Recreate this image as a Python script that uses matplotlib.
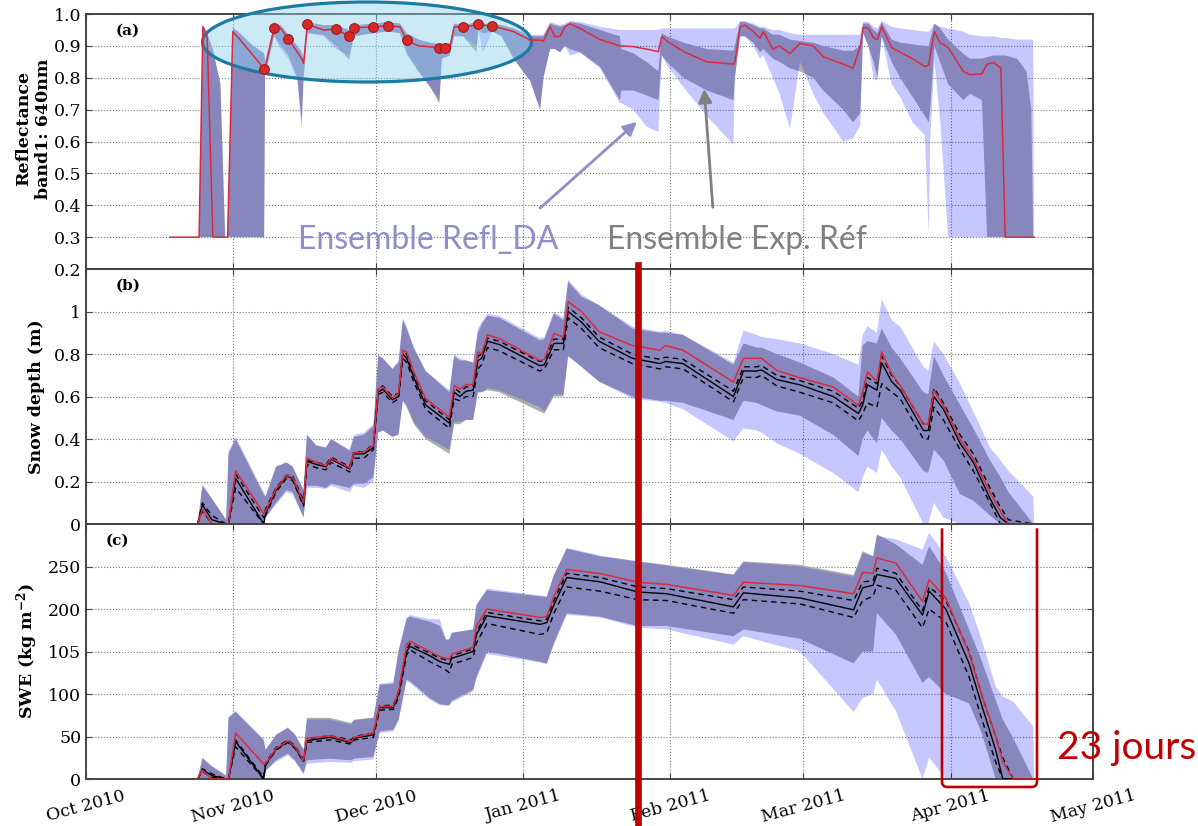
import datetime as dt
import numpy as np
import matplotlib
matplotlib.use("Agg")
import matplotlib.pyplot as plt
import matplotlib.dates as mdates
import matplotlib.transforms as mtransforms
from matplotlib.patches import Ellipse, FancyArrowPatch, PathPatch
from matplotlib.path import Path
from matplotlib.lines import Line2D

plt.rcParams['font.family'] = 'DejaVu Serif'
plt.rcParams['mathtext.fontset'] = 'dejavuserif'

# jours depuis le 1er octobre 2010
t0 = mdates.date2num(dt.datetime(2010, 10, 1))

# ---------------- (a) réflectance bande 1 ----------------
jours_a = [17.7, 23.8, 24.6, 25.5, 26.7, 28.3, 29.3, 29.8, 30.9, 32.4, 35.2, 37.5, 37.7, 39.6, 41.0,
           42.6, 44.5, 45.4, 45.8, 46.6, 50.0, 52.6, 55.4, 56.4, 60.5, 63.5, 66.1, 67.5, 70.0, 72.5,
           74.4, 74.9, 76.6, 77.5, 79.4, 82.2, 82.6, 83.6, 85.5, 87.5, 90.0, 93.5, 95.6, 96.3, 97.7,
           98.7, 99.8, 100.8, 101.9, 104.0, 108.2, 112.4, 112.7, 115.2, 118.0, 120.5, 121.2, 122.3, 125.8, 130.7,
           136.3, 136.6, 137.7, 138.7, 140.5, 141.9, 142.6, 144.6, 146.0, 148.2, 150.3, 153.1, 155.2, 159.4, 161.5,
           163.0, 163.6, 164.7, 165.8, 166.6, 167.5, 169.6, 171.4, 174.0, 176.6, 177.4, 177.7, 178.6, 179.8, 181.5,
           184.7, 186.1, 188.6, 189.7, 191.1, 192.6, 193.5, 196.0, 198.0, 199.0, 199.4, 199.6]
refl_da = [.30, .30, .96, .93, .30, .30, .30, .30, .945, .92, .87, .828, .83, .957, .955,
           .922, .88, .86, .845, .968, .95, .952, .931, .957, .96, .963, .96, .917, .90, .897,
           .894, .894, .895, .96, .96, .965, .969, .965, .963, .955, .945, .918, .918, .915, .96,
           .929, .93, .96, .969, .955, .92, .90, .90, .898, .89, .882, .93, .915, .882, .85,
           .843, .85, .96, .965, .945, .924, .945, .89, .90, .876, .908, .90, .866, .843, .83,
           .90, .958, .955, .925, .92, .96, .895, .88, .86, .835, .84, .87, .945, .91, .895,
           .82, .81, .812, .843, .848, .83, .30, .30, .30, .30, .30, .30]
refl_ref_min = [.30, .30, .30, .30, .30, .30, .30, .30, .30, .30, .30, .30, .81, .93, .90,
                .87, .80, .66, .80, .94, .935, .90, .856, .93, .94, .945, .94, .88, .82, .77,
                .72, .86, .87, .93, .93, .88, .95, .94, .945, .93, .86, .79, .70, .80, .89,
                .89, .88, .90, .89, .88, .835, .73, .76, .76, .745, .73, .87, .85, .80, .76,
                .73, .80, .93, .93, .91, .88, .89, .86, .85, .83, .82, .80, .76, .70, .66,
                .69, .94, .90, .85, .80, .93, .85, .80, .74, .68, .66, .70, .90, .85, .78,
                .73, .75, .73, .30, .30, .30, .30, .30, .30, .30, .30, .30]
refl_ref_max = [.30, .30, .965, .94, .89, .78, .30, .30, .957, .94, .90, .877, .85, .965, .965,
                .935, .90, .88, .86, .975, .965, .965, .95, .965, .97, .975, .97, .94, .92, .91,
                .905, .905, .91, .97, .965, .975, .975, .97, .97, .965, .955, .93, .93, .93, .97,
                .965, .96, .965, .975, .97, .95, .93, .89, .877, .85, .82, .94, .93, .91, .89,
                .885, .90, .975, .975, .965, .955, .955, .935, .935, .92, .915, .91, .90, .885, .885,
                .90, .97, .97, .95, .94, .975, .92, .91, .905, .90, .90, .92, .97, .955, .92,
                .875, .86, .86, .865, .87, .87, .87, .86, .82, .70, .30, .30]
refl_da_min = [.30, .30, .30, .30, .30, .30, .30, .30, .30, .30, .30, .30, .81, .93, .89,
               .86, .79, .636, .79, .94, .93, .89, .87, .93, .94, .945, .94, .87, .82, .77,
               .73, .86, .87, .93, .93, .90, .95, .88, .945, .93, .86, .79, .70, .80, .89,
               .89, .88, .90, .87, .88, .83, .72, .72, .70, .647, .63, .87, .84, .77, .68,
               .59, .80, .93, .93, .90, .86, .87, .80, .75, .64, .85, .75, .69, .60, .61,
               .65, .94, .90, .80, .79, .93, .78, .74, .66, .62, .31, .60, .85, .67, .30,
               .30, .30, .30, .30, .30, .30, .30, .30, .30, .30, .30, .30]
refl_da_max = [.30, .30, .965, .94, .89, .78, .30, .30, .957, .94, .90, .877, .85, .965, .965,
               .935, .90, .88, .86, .975, .965, .965, .95, .965, .97, .975, .97, .94, .92, .91,
               .905, .905, .91, .97, .965, .975, .975, .97, .97, .965, .955, .935, .935, .935, .975,
               .97, .965, .97, .978, .975, .96, .95, .95, .95, .95, .95, .955, .955, .955, .955,
               .955, .955, .978, .978, .97, .96, .96, .95, .95, .94, .935, .935, .935, .935, .935,
               .935, .975, .975, .96, .955, .978, .96, .955, .95, .945, .945, .95, .97, .96, .955,
               .945, .935, .93, .93, .93, .925, .925, .92, .92, .92, .92, .30]
obs_jours = [37.5, 39.6, 42.6, 46.6, 52.6, 55.4, 56.4, 60.5, 63.5, 67.5, 74.4, 75.6, 79.4, 82.6, 85.5]
obs_refl = [.828, .957, .922, .968, .952, .931, .957, .96, .963, .917, .894, .894, .96, .969, .963]

# ---------------- (b) hauteur de neige ----------------
jours_b = [23.5, 24.5, 26.5, 29.5, 30.0, 31.5, 37.4, 37.8, 40.0, 42.2, 43.5, 45.8, 46.5, 48.5, 50.5,
           51.6, 55.5, 56.4, 58.5, 60.5, 61.5, 62.5, 64.5, 65.8, 66.7, 67.5, 69.0, 71.5, 76.5, 77.5,
           78.7, 80.0, 81.5, 82.5, 83.3, 84.5, 87.0, 95.5, 96.5, 98.5, 100.5, 101.5, 104.3, 108.0, 115.0,
           120.8, 122.0, 125.7, 136.3, 138.4, 141.2, 142.2, 145.4, 150.3, 157.3, 162.6, 163.5, 164.5, 166.5, 167.5,
           169.6, 171.4, 176.3, 177.3, 178.5, 180.5, 184.0, 186.8, 190.3, 192.5, 194.2, 199.4, 199.6]
hn_da = [0, .07, 0, 0, 0, .25, .05, .06, .165, .228, .22, .10, .31, .29, .275,
         .31, .265, .335, .34, .37, .635, .645, .593, .613, .818, .81, .716, .59, .503, .652,
         .634, .656, .656, .81, .80, .89, .873, .77, .775, .896, .88, 1.047, 1.0, .905, .84,
         .818, .84, .818, .668, .78, .78, .78, .723, .688, .645, .558, .62, .716, .671, .81,
         .707, .652, .47, .47, .629, .558, .40, .307, .15, .06, 0, 0, 0]
hn_ref = [0, .09, .02, 0, 0, .215, 0, .05, .16, .225, .215, .09, .295, .28, .27,
          .305, .26, .33, .33, .36, .62, .635, .585, .60, .80, .78, .69, .56, .475, .62,
          .60, .625, .63, .77, .78, .86, .845, .745, .75, .85, .85, 1.0, .95, .86, .78,
          .755, .765, .755, .60, .72, .72, .725, .68, .655, .60, .52, .56, .655, .63, .76,
          .67, .63, .44, .44, .60, .54, .38, .29, .12, .03, 0, 0, 0]
hn_ref_q3 = [0, .10, .04, 0, 0, .235, .03, .07, .17, .23, .225, .11, .30, .29, .28,
             .315, .27, .34, .34, .375, .64, .65, .60, .615, .81, .80, .71, .58, .49, .64,
             .62, .645, .65, .79, .80, .875, .86, .765, .77, .87, .87, 1.02, .97, .88, .80,
             .775, .785, .775, .625, .74, .74, .745, .70, .675, .625, .545, .58, .69, .66, .79,
             .70, .65, .47, .47, .64, .57, .42, .33, .17, .08, .02, 0, 0]
hn_ref_q1 = [0, .06, 0, 0, 0, .17, 0, .04, .15, .215, .205, .085, .28, .265, .255,
             .29, .245, .31, .31, .35, .61, .62, .57, .59, .78, .76, .67, .54, .45, .59,
             .58, .60, .60, .73, .75, .83, .815, .72, .73, .82, .82, .97, .92, .83, .755,
             .73, .74, .73, .575, .69, .69, .70, .65, .62, .57, .485, .52, .57, .55, .66,
             .62, .59, .40, .40, .55, .49, .35, .25, .10, 0, 0, 0, 0]
hn_ref_min = [0, 0, 0, 0, 0, 0, 0, .03, .10, .16, .15, .03, .18, .18, .17,
              .19, .17, .19, .19, .22, .43, .44, .41, .42, .58, .55, .47, .40, .33, .47,
              .47, .49, .49, .62, .62, .63, .62, .53, .52, .60, .60, .79, .74, .67, .60,
              .58, .58, .57, .49, .58, .57, .56, .53, .51, .42, .32, .40, .44, .38, .50,
              .44, .40, .25, .24, .35, .30, .14, .11, .04, 0, 0, 0, 0]
hn_ref_max = [0, .18, .12, .02, .33, .40, .14, .13, .27, .29, .27, .16, .42, .37, .36,
              .40, .345, .41, .42, .46, .79, .78, .73, .76, .96, .92, .83, .72, .62, .79,
              .77, .77, .76, .90, .94, .98, .97, .865, .87, .99, .96, 1.14, 1.07, 1.03, .92,
              .90, .90, .89, .75, .85, .83, .83, .80, .76, .69, .60, .84, .86, .85, .92,
              .83, .78, .62, .61, .79, .70, .56, .45, .30, .22, .15, 0, 0]
hn_da_min = [0, 0, 0, 0, 0, 0, 0, .03, .09, .15, .14, .03, .17, .17, .165,
             .18, .15, .18, .17, .20, .43, .44, .41, .42, .58, .56, .48, .41, .35, .48,
             .48, .49, .49, .62, .62, .64, .63, .55, .53, .61, .61, .79, .74, .67, .59,
             .575, .57, .54, .39, .45, .44, .43, .38, .33, .24, .15, .22, .27, .24, .35,
             .27, .22, 0, 0, .10, .03, 0, 0, 0, 0, 0, 0, 0]
hn_da_max = [0, .19, .12, .02, .34, .41, .15, .13, .27, .29, .27, .16, .42, .37, .36,
             .40, .35, .42, .43, .47, .80, .78, .73, .77, .97, .93, .83, .72, .63, .80,
             .78, .77, .76, .92, .95, .99, .98, .875, .88, 1.0, .97, 1.15, 1.08, 1.03, .93,
             .905, .91, .89, .76, .91, .89, .88, .87, .85, .80, .75, .89, .93, .90, 1.06,
             .96, .93, .74, .72, .86, .80, .66, .53, .36, .30, .25, .13, 0]

# ---------------- (c) équivalent en eau ----------------
jours_c = [23.5, 24.5, 26.5, 29.5, 30.0, 31.5, 37.4, 37.8, 40.0, 42.5, 44.0, 45.8, 46.5, 51.3, 55.8,
           56.5, 60.5, 61.8, 64.7, 65.8, 67.5, 68.2, 72.4, 74.5, 75.8, 76.5, 77.0, 81.5, 82.2, 84.4,
           95.6, 97.0, 98.5, 101.2, 108.2, 116.2, 122.2, 136.3, 138.4, 150.3, 161.6, 163.5, 165.7, 166.5, 170.5,
           176.1, 177.5, 181.0, 185.9, 188.5, 191.5, 193.0, 195.2, 199.4, 199.6]
swe_da = [0, 10.6, 0, 0, 0, 54, 17.7, 18, 36, 45, 38, 22, 48, 51, 44,
          49, 54, 85, 86, 103, 158, 162, 150, 144, 142, 141, 147, 155, 180, 200,
          190, 191, 215, 246.5, 241.7, 231.5, 229, 216, 231.5, 227.6, 218, 243, 242, 260, 254,
          209, 234.7, 213, 148, 100, 50, 20, 0, 0, 0]
swe_ref = [0, 11, 4, 0, 0, 44, 0, 17, 35, 44, 37, 21, 45, 49, 43,
           48, 52, 84, 84, 100, 150, 156, 145, 138, 136, 135, 142, 150, 170, 192,
           182, 184, 205, 237, 232, 220, 218, 202.5, 219, 213, 199, 225, 228, 240.6, 236,
           193, 221, 200, 136, 88, 34, 0, 0, 0, 0]
swe_ref_q3 = [0, 12, 6, 0, 0, 46, 2, 19, 37, 46, 39, 23, 47, 51, 46,
              50, 54, 86, 87, 103, 153, 159, 148, 142, 140, 139, 145, 153, 173, 196,
              186, 188, 210, 242, 237, 226, 224, 211, 226, 221, 210, 232, 233, 248, 242,
              198, 226, 210, 150, 100, 50, 25, 0, 0, 0]
swe_ref_q1 = [0, 9, 2, 0, 0, 38, 0, 16, 34, 43, 36, 20, 43, 46, 41,
              46, 49, 81, 82, 96, 146, 152, 138, 132, 128, 125, 135, 143, 160, 183,
              170, 172, 195, 226, 221, 211, 210, 195, 211, 206, 190, 210, 215, 228, 222,
              178, 200, 185, 120, 72, 20, 0, 0, 0, 0]
swe_ref_min = [0, 0, 0, 0, 0, 0, 0, 10, 22, 30, 22, 7, 22, 24, 22,
               24, 26, 56, 58, 70, 117, 115, 95, 88, 87, 87, 92, 105, 120, 150,
               138, 136, 160, 195, 191, 180, 180, 168, 176, 165, 136, 150, 150, 195, 170,
               113, 120, 100, 89, 55, 0, 0, 0, 0, 0]
swe_ref_max = [0, 24.4, 15, 4, 72, 79, 46, 34, 52, 60, 52, 34, 72, 72, 66,
               70, 72, 111, 112, 150, 189, 191, 185, 180, 164, 164, 172, 176, 205, 222,
               215, 214, 240, 271, 262, 256, 252, 240.6, 256, 252, 240, 268, 262, 288, 276,
               252, 274, 243, 176, 140, 93, 70, 48, 0, 0]
swe_da_min = [0, 0, 0, 0, 0, 0, 0, 9, 20, 28, 20, 5, 18, 20, 19,
              21, 23, 54, 56, 68, 115, 113, 93, 87, 86, 86, 90, 103, 118, 147,
              137, 135, 158, 193, 190, 178, 176, 158, 168, 150, 79, 95, 100, 117, 80,
              0, 25, 0, 0, 0, 0, 0, 0, 0, 0]
swe_da_max = [0, 25, 15, 4, 73, 80, 47, 35, 52, 61, 53, 35, 70, 70, 64,
              69, 72, 112, 114, 152, 189, 193, 188, 188, 164, 165, 172, 176, 205, 224,
              216, 215, 240, 272, 263, 256, 251, 240, 255, 250, 238, 266, 262, 286, 282,
              270, 290, 262, 207, 165, 109, 97, 91, 62, 0]

# annotations (jours depuis le 1er octobre)
jour_coupure = 116.2
crochet_debut, crochet_fin = 180.2, 200.2

ROUGE = '#dc2a3c'
GRIS = '#adadad'


def enveloppes(ax, jours, rmin, rmax, dmin, dmax):
    x = t0 + np.array(jours)
    ax.fill_between(x, rmin, rmax, facecolor=GRIS, lw=0, zorder=1)
    ax.fill_between(x, dmin, dmax, facecolor='blue', alpha=0.22, lw=0, zorder=2)


def courbes(ax, jours, ref, q1, q3, da):
    x = t0 + np.array(jours)
    ax.plot(x, q1, color='k', lw=1.0, ls=(0, (4, 3)), zorder=3)
    ax.plot(x, q3, color='k', lw=1.0, ls=(0, (4, 3)), zorder=3)
    ax.plot(x, ref, color='k', lw=1.0, zorder=3)
    ax.plot(x, da, color=ROUGE, lw=1.1, zorder=4)


def fx(px):
    return px / 1198.0


def fy(py):
    return 1 - py / 826.0


fig = plt.figure(figsize=(11.98, 8.26), dpi=100)
L, W, H = 0.0718, 0.8406, 0.3087
ax_a = fig.add_axes([L, 0.6743, W, H])
ax_b = fig.add_axes([L, 0.3656, W, H], sharex=ax_a)
ax_c = fig.add_axes([L, 0.0569, W, H], sharex=ax_a)

# (a)
enveloppes(ax_a, jours_a, refl_ref_min, refl_ref_max, refl_da_min, refl_da_max)
ax_a.plot(t0 + np.array(jours_a), refl_da, color=ROUGE, lw=1.1, zorder=4)
ax_a.plot(t0 + np.array(obs_jours), obs_refl, 'o', ms=7, mfc='#d42a2a', mec='#a01818', mew=0.8, zorder=5)
# ellipse autour des observations assimilées (sous la courbe rouge)
ax_a.add_patch(Ellipse((fx(367), fy(42)), 329 / 1198.0, 80 / 826.0, transform=fig.transFigure,
                       facecolor=(0.56, 0.82, 0.93, 0.45), edgecolor='#1b7ca3', lw=2.3,
                       clip_on=False, zorder=3.5))
ax_a.set_ylim(0.2, 1.0)
ax_a.set_yticks(np.arange(0.2, 1.01, 0.1))
ax_a.set_yticklabels(['%.1f' % v for v in np.arange(0.2, 1.01, 0.1)])
ax_a.set_ylabel('Reflectance\nband1: 640nm', fontweight='bold', fontsize=12.5)
ax_a.yaxis.set_label_coords(-0.034, 0.55)

# (b)
enveloppes(ax_b, jours_b, hn_ref_min, hn_ref_max, hn_da_min, hn_da_max)
courbes(ax_b, jours_b, hn_ref, hn_ref_q1, hn_ref_q3, hn_da)
ax_b.set_ylim(0, 1.2)
ax_b.set_yticks([0, 0.2, 0.4, 0.6, 0.8, 1.0])
ax_b.set_yticklabels(['0', '0.2', '0.4', '0.6', '0.8', '1'])
ax_b.set_ylabel('Snow depth (m)', fontweight='bold', fontsize=12.5)
ax_b.yaxis.set_label_coords(-0.041, 0.5)

# (c)
enveloppes(ax_c, jours_c, swe_ref_min, swe_ref_max, swe_da_min, swe_da_max)
courbes(ax_c, jours_c, swe_ref, swe_ref_q1, swe_ref_q3, swe_da)
ax_c.set_ylim(0, 300)
ax_c.set_yticks([0, 50, 100, 150, 200, 250])
ax_c.set_yticklabels(['0', '50', '100', '105', '200', '250'])
ax_c.set_ylabel(r'SWE (kg m$^{\mathbf{-2}}$)', fontweight='bold', fontsize=12.5)
ax_c.yaxis.set_label_coords(-0.046, 0.5)

ax_c.set_xlim(t0, mdates.date2num(dt.datetime(2011, 5, 1)))
ax_c.xaxis.set_major_locator(mdates.MonthLocator())
ax_c.xaxis.set_major_formatter(mdates.DateFormatter('%b %Y'))
for lbl in ax_c.get_xticklabels():
    lbl.set_rotation(15)
    lbl.set_ha('center')

for ax, lettre, xl in [(ax_a, '(a)', 0.029), (ax_b, '(b)', 0.029), (ax_c, '(c)', 0.019)]:
    ax.grid(True, ls=':', color='#777777', lw=0.8)
    ax.set_axisbelow(True)
    ax.tick_params(direction='in', top=True, right=True, labelsize=12.5, length=4, color='#444444')
    for s in ax.spines.values():
        s.set_color('#444444')
        s.set_linewidth(1.4)
    ax.text(xl, 0.935, lettre, transform=ax.transAxes, fontweight='bold', fontsize=11, va='center')
plt.setp(ax_a.get_xticklabels(), visible=False)
plt.setp(ax_b.get_xticklabels(), visible=False)
ax_c.tick_params(axis='x', pad=6)

# textes et flèches
fig.text(fx(428), fy(240), 'Ensemble Refl_DA', ha='center', va='center', fontsize=23,
         color='#8e8ec8', family=['Lato', 'DejaVu Sans'])
fig.text(fx(737), fy(240), 'Ensemble Exp. Réf', ha='center', va='center', fontsize=23,
         color='#808080', family=['Lato', 'DejaVu Sans'])
fig.add_artist(FancyArrowPatch((fx(538), fy(210)), (fx(639), fy(120)), transform=fig.transFigure,
                               arrowstyle='-|>', mutation_scale=20, lw=2, color='#8e8ec8'))
fig.add_artist(FancyArrowPatch((fx(713), fy(210)), (fx(704), fy(86)), transform=fig.transFigure,
                               arrowstyle='-|>', mutation_scale=20, lw=2, color='#808080'))

# trait vertical rouge
trans = mtransforms.blended_transform_factory(ax_c.transData, fig.transFigure)
xc = t0 + jour_coupure
fig.add_artist(Line2D([xc, xc], [fy(265), 0], transform=trans, color='#c00000', lw=4.8, zorder=7))

# crochet de fonte
x1, x2 = t0 + crochet_debut, t0 + crochet_fin
verts = [(x1, 295), (x1, -3), (x1, -9.4), (x1 + 1.2, -9.4), (x2 - 1.2, -9.4), (x2, -9.4), (x2, -3), (x2, 295)]
codes = [Path.MOVETO, Path.LINETO, Path.CURVE3, Path.CURVE3, Path.LINETO, Path.CURVE3, Path.CURVE3, Path.LINETO]
ax_c.add_patch(PathPatch(Path(verts, codes), facecolor='none', edgecolor='#c00000', lw=1.9,
                         clip_on=False, zorder=8))
fig.text(fx(1127), fy(748), '23 jours', ha='center', va='center', fontsize=28,
         color='#c00000', family=['Lato', 'DejaVu Sans'])

fig.savefig('out.png', dpi=100)
